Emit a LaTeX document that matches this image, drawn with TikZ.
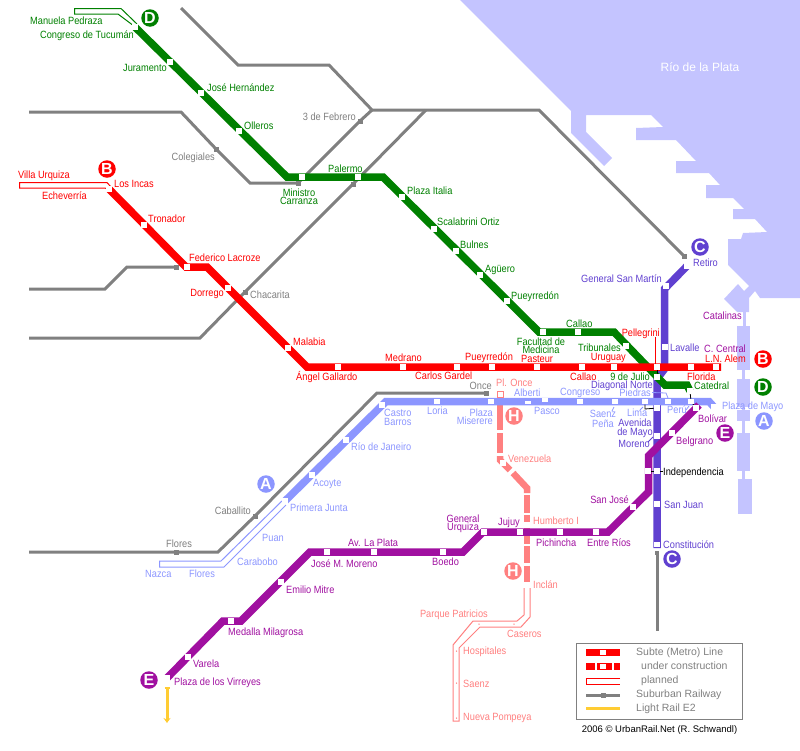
\documentclass[tikz,border=0pt]{standalone}
\usepackage{fontspec}
\setmainfont{Liberation Sans}[FakeStretch=0.88]
\newfontfamily\plainf{Liberation Sans}
\usetikzlibrary{arrows.meta}
\pgfdeclarelayer{water}
\pgfdeclarelayer{rails}
\pgfsetlayers{water,rails,main}
\definecolor{cWater}{HTML}{C4C4FF}
\definecolor{cD}{HTML}{008000}
\definecolor{cB}{HTML}{FF0000}
\definecolor{cA}{HTML}{8C96FF}
\definecolor{cC}{HTML}{6040D0}
\definecolor{cE}{HTML}{A010A0}
\definecolor{cH}{HTML}{FF8080}
\definecolor{cGrey}{HTML}{808080}
\definecolor{cYel}{HTML}{FFCC33}
\tikzset{
  st/.style={rectangle,fill=white,inner sep=0pt,minimum size=5.5pt},
  gst/.style={rectangle,fill=cGrey,inner sep=0pt,minimum size=5pt},
  lbl/.style={inner sep=0pt,yshift=-1pt,font=\fontsize{10.5}{8.5}\selectfont,text height=7.5pt,text depth=2pt},
  lblm/.style={inner sep=0pt,yshift=-0.5pt,font=\fontsize{10.5}{8.5}\selectfont},
  lD/.style={text=cD}, lB/.style={text=cB}, lA/.style={text=cA}, lC/.style={text=cC},
  lE/.style={text=cE}, lH/.style={text=cH}, lG/.style={text=cGrey},
  badge/.style={circle,inner sep=0pt,minimum size=17.5pt,text=white,font=\plainf\fontsize{16}{16}\selectfont\bfseries},
  metro/.style={line width=7.5pt,line join=miter},
  rail/.style={cGrey,line width=3pt,line join=miter},
  thin/.style={line width=1pt,line join=miter},
  tick/.style={line width=0.8pt},
  legendtxt/.style={inner sep=0pt,anchor=west,yshift=-0.5pt,text=cGrey,font=\plainf\fontsize{10.5}{10}\selectfont,text height=7.5pt,text depth=2pt},
}
\begin{document}
\begin{tikzpicture}[x=1pt,y=-1pt]
\useasboundingbox (0,0) rectangle (800,750);
% ---------- water
\begin{pgfonlayer}{water}
\fill[cWater] (460,0)--(571,111)--(571,133)--(604,166)--(612,158)--(586,132)--(586,115)--(651,115)--(663,127)--(636,128)--(636,140)--(676,140)--(696,161)--(676,161)--(676,173)--(709,173)--(720,185)--(706,185)--(706,198)--(733,198)--(744,209)--(733,209)--(733,219)--(755,219)--(767,232)--(743,233)--(741,239)--(728,239)--(728,265)--(749,286)--(744,291)--(738,284)--(724,299)--(737,312)--(749,312)--(749,298)--(755,291)--(760,298)--(800,298)--(800,0)--cycle;
\fill[cWater] (743,312) rectangle (746,326);
\fill[cWater] (737,326) rectangle (750,370);
\fill[cWater] (742,370) rectangle (745,379);
\fill[cWater] (737,379) rectangle (750,407);
\fill[cWater] (742,407) rectangle (745,410);
\fill[cWater] (737,410) rectangle (750,421);
\fill[cWater] (742,421) rectangle (745,433);
\fill[cWater] (737,433) rectangle (750,471);
\fill[cWater] (742,471) rectangle (745,479);
\fill[cWater] (738,479) rectangle (752,514);
\end{pgfonlayer}
\node[inner sep=0pt,text=white,font=\plainf\fontsize{12}{12}\selectfont] (tRio) at (700,67) {Río de la Plata};
% ---------- stations: grey
\node[gst] (gColegiales) at (216,149) {};
\node[gst] (gFebrero) at (360,121) {};
\node[gst] (gMinistro) at (298,183) {};
\node[gst] (gPalermo) at (353,184) {};
\node[gst] (gChacarita) at (245,292) {};
\node[gst] (gLacroze) at (176,267) {};
\node[gst] (gCaballito) at (255,516) {};
\node[gst] (gFlores) at (176,552) {};
\node[gst] (gOnce) at (486,393) {};
\node[gst] (gRetiro) at (684,256) {};
\node[gst,minimum size=4.5pt] (gConst) at (657,553) {};
% grey corners
\coordinate (r1a) at (181,8); \coordinate (r1b) at (238,65); \coordinate (r1c) at (329,65); \coordinate (r1d) at (372,110); \coordinate (r1e) at (539,110);
\coordinate (r2a) at (29,112); \coordinate (r2b) at (181,112); \coordinate (r2c) at (250,183);
\coordinate (r3a) at (29,338); \coordinate (r3b) at (200,338); \coordinate (r3c) at (426,110);
\coordinate (r4a) at (29,289); \coordinate (r4b) at (105,289); \coordinate (r4c) at (127,267);
\coordinate (r5a) at (29,552); \coordinate (r5b) at (218,552); \coordinate (r5c) at (377,393);
\coordinate (r6) at (657,631);
% ---------- stations: D
\node[st] (dCongreso) at (135,27) {};
\node[st] (dJuramento) at (170,62) {};
\node[st] (dHernandez) at (201,93) {};
\node[st] (dOlleros) at (239,131) {};
\coordinate (dc1) at (287,177);
\node[st] (dMinistro) at (302,177) {};
\node[st] (dPalermo) at (358,177) {};
\coordinate (dc2) at (383,177);
\node[st] (dItalia) at (402,197) {};
\node[st] (dScalabrini) at (434,229) {};
\node[st] (dBulnes) at (456,251) {};
\node[st] (dAguero) at (480,275) {};
\node[st] (dPueyrredon) at (507,301) {};
\coordinate (dc3) at (539,332);
\node[st] (dFacultad) at (543,332) {};
\node[st] (dCallao) at (578,332) {};
\coordinate (dc4) at (614,332);
\node[st] (dTribunales) at (626,346) {};
\node[st] (dJulio) at (657,377) {};
\coordinate (dc5) at (665,385);
\coordinate (dc6) at (687,385);
\node[st] (dCatedral) at (690,391) {};
% ---------- stations: B
\node[st] (bIncas) at (109,189) {};
\node[st] (bTronador) at (144,225) {};
\coordinate (bc1) at (186,267);
\node[st] (bLacroze) at (187,267) {};
\coordinate (bc2) at (207,267);
\node[st] (bDorrego) at (228,288) {};
\node[st] (bMalabia) at (288,348) {};
\coordinate (bc3) at (307,367);
\node[st] (bGallardo) at (338,367) {};
\node[st] (bMedrano) at (403,367) {};
\node[st] (bGardel) at (457,367) {};
\node[st] (bPueyrredon) at (492,367) {};
\node[st] (bPasteur) at (537,367) {};
\node[st] (bCallao) at (582,367) {};
\node[st] (bUruguay) at (614,367) {};
\node[st] (bPellegrini) at (657,367) {};
\node[st] (bFlorida) at (691,367) {};
\node[st] (bAlem) at (716,367) {};
\coordinate (bEnd) at (721,367);
% ---------- stations: A
\node[st] (aJunta) at (285,501) {};
\node[st] (aAcoyte) at (312,475) {};
\node[st] (aJaneiro) at (346,440) {};
\node[st] (aCastro) at (382,405) {};
\coordinate (ac1) at (386,401.5);
\node[st] (aLoria) at (437,401.5) {};
\node[st] (aPlaza) at (491,401.5) {};
\node[st,minimum height=3.5pt] (aAlberti) at (528,402.5) {};
\node[st,minimum height=3.5pt] (aPasco) at (545,400) {};
\node[st] (aCongreso) at (580,401.5) {};
\node[st] (aSaenz) at (615,401.5) {};
\node[st] (aLima) at (645,401.5) {};
\node[st] (aPiedras) at (668,401.5) {};
\node[st] (aPeru) at (691,401.5) {};
\coordinate (ac2) at (709,401.5);
\node[st] (aMayo) at (714,407) {};
% ---------- stations: C
\node[st] (cRetiro) at (687,266) {};
\node[st] (cMartin) at (666,286) {};
\coordinate (cc1) at (664.5,289);
\node[st] (cLavalle) at (665,347) {};
\coordinate (cc2) at (664.5,369);
\coordinate (cc3) at (657,379);
\node[st] (cMayo) at (657,408) {};
\node[st] (cMoreno) at (657,436) {};
\node[st] (cInd) at (657,471) {};
\node[st] (cJuan) at (657,504) {};
\node[st] (cConst) at (657,544.5) {};
\coordinate (cEnd) at (657,548);
% ---------- stations: E
\node[st] (eVirreyes) at (167,678) {};
\node[st] (eVarela) at (188,657) {};
\coordinate (ec1) at (223,621);
\node[st] (eMedalla) at (231,621) {};
\coordinate (ec2) at (241,621);
\node[st] (eMitre) at (281,582) {};
\coordinate (ec3) at (310,552);
\node[st] (eMoreno) at (327,552) {};
\node[st] (ePlata) at (374,552) {};
\node[st] (eBoedo) at (443,552) {};
\coordinate (ec4) at (463,552);
\coordinate (ec5) at (483,532);
\node[st] (eUrquiza) at (484,532) {};
\node[st] (eJujuy) at (520,532) {};
\node[st] (ePichincha) at (560,532) {};
\node[st] (eRios) at (596,532) {};
\coordinate (ec6) at (608,532);
\node[st] (eJose) at (633,507) {};
\coordinate (ec7) at (648.5,492);
\node[st] (eInd) at (648,471) {};
\coordinate (ec8) at (648.5,456);
\node[st] (eBelgrano) at (672,433) {};
\node[st] (eBolivar) at (696,408) {};
\coordinate (eEnd) at (699,405);
% ---------- stations: H
\node[rectangle,draw=cH,line width=1pt,fill=white,inner sep=0pt,minimum size=6pt] (hOnce) at (500,394) {};
\node[st] (hVenezuela) at (503,463) {};
\node[st] (hHumberto) at (527,525) {};
\node[st] (hInclan) at (527,585) {};
\coordinate (h1a) at (500,405); \coordinate (h1b) at (500,430);
\coordinate (h2a) at (500,433); \coordinate (h2b) at (500,453);
\coordinate (h3a) at (500,456); \coordinate (h3b) at (500,460); \coordinate (h3c) at (510,470);
\coordinate (h4a) at (513,473); \coordinate (h4b) at (527,488); \coordinate (h4c) at (527,493);
\coordinate (h5a) at (527,495); \coordinate (h5b) at (527,513);
\coordinate (h6a) at (527,515); \coordinate (h6b) at (527,544);
\coordinate (h7a) at (527,546); \coordinate (h7b) at (527,563);
\coordinate (h8a) at (527,565.5); \coordinate (h8b) at (527,588);
% ---------- planned-stop dots
\node[circle,fill=cH,inner sep=0pt,minimum size=1.5pt] (hPatricios) at (479,624) {};
\node[circle,fill=cH,inner sep=0pt,minimum size=1.5pt] (hCaseros) at (514,624) {};
\node[circle,fill=cH,inner sep=0pt,minimum size=1.5pt] (hHospitales) at (456.5,651) {};
\node[circle,fill=cH,inner sep=0pt,minimum size=1.5pt] (hSaenz) at (456.5,683) {};
\node[circle,fill=cH,inner sep=0pt,minimum size=1.5pt] (hPompeya) at (456.5,718) {};
% ---------- rails
\begin{pgfonlayer}{rails}
\draw[rail] (r1a)--(r1b)--(r1c)--(r1d)--(r1e)--(gRetiro.center);
\draw[rail] (r1d)--(gFebrero.center)--(gMinistro.center);
\draw[rail] (r2a)--(r2b)--(gColegiales.center)--(r2c)--(gMinistro.center);
\draw[rail] (r3a)--(r3b)--(gChacarita.center)--(gPalermo.center)--(r3c);
\draw[rail] (r4a)--(r4b)--(r4c)--(gLacroze.center);
\draw[rail] (r5a)--(gFlores.center)--(r5b)--(gCaballito.center)--(r5c)--(gOnce.center);
\draw[rail] (gConst.center)--(r6);
% line H
\draw[metro,cH,line width=6.5pt] (h1a)--(h1b);
\draw[metro,cH,line width=6.5pt] (h2a)--(h2b);
\draw[metro,cH,line width=6.5pt] (h3a)--(h3b)--(h3c);
\draw[metro,cH,line width=6.5pt] (h4a)--(h4b)--(h4c);
\draw[metro,cH,line width=6.5pt] (h5a)--(h5b);
\draw[metro,cH,line width=6.5pt] (h6a)--(h6b);
\draw[metro,cH,line width=6.5pt] (h7a)--(h7b);
\draw[metro,cH,line width=6.5pt] (h8a)--(h8b);
% line H planned
\draw[thin,cH] (524,588)--(524,615)--(517,621)--(473,621)--(453,645)--(453,721)--(459,721)--(459,648)--(480,627)--(521,627)--(530,617)--(530,588);
% line A planned
\draw[thin,cA] (285,498)--(221,561)--(159.5,561)--(159.5,567)--(224,567)--(286,505);
% line D planned
\draw[thin,cD] (134,26)--(118,14)--(74.5,14)--(74.5,8.5)--(121,8.5)--(137,24);
% line B planned
\draw[thin,cB] (107,189)--(105,188)--(19.5,188)--(19.5,182.5)--(107,182.5)--(111,187);
% line C
\draw[metro,cC] (cRetiro.center)--(cc1)--(cc2)--(cc3)--(cEnd);
% line D
\draw[metro,cD] (dCongreso.center)--(dc1)--(dc2)--(dc3)--(dc4)--(dc5)--(dc6)--(dCatedral.center);
% line A
\draw[metro,cA] (aJunta.center)--(ac1)--(ac2)--(aMayo.center);
% line B
\draw[metro,cB] (bIncas.center)--(bc1)--(bc2)--(bc3)--(bEnd);
% line E
\draw[metro,cE] (eVirreyes.center)--(ec1)--(ec2)--(ec3)--(ec4)--(ec5)--(ec6)--(ec7)--(ec8)--(eEnd);
% light rail
\draw[cYel,line width=3pt,-{Stealth[length=5pt,width=7pt]}] (167,687)--(167,723);
\draw[cYel,line width=2pt] (164.5,688)--(169.5,688);
% interchange ticks
\draw[tick,black] (aLima.center)++(0,3)--(645,409)--(cMayo.center);
\draw[tick,black] (dCatedral.center)--(aPeru.center);
\draw[tick,black] (aPeru.center)--(eBolivar.center);
\draw[tick,black] (bPellegrini.center)--(dJulio.center);
\draw[tick,black] (eInd.center)--(663,471);
\draw[tick,cB] (655,337)--(655,364);
\draw[tick,cA] (652,392.5)--(666,393)--(668,398);
\draw[tick,cA] (612,411)--(614,407);
\draw[tick,cA] (640,410)--(643,407);
\draw[tick,cA] (686,410)--(689,406);
\draw[tick,cC] (648,442)--(653,437);
\end{pgfonlayer}
% ---------- badges
\node[badge,fill=cD] (badgeD1) at (150,18) {D};
\node[badge,fill=cB] (badgeB1) at (107,169) {B};
\node[badge,fill=cC] (badgeC1) at (700,247) {C};
\node[badge,fill=cB] (badgeB2) at (763,359) {B};
\node[badge,fill=cD] (badgeD2) at (763,387) {D};
\node[badge,fill=cA] (badgeA1) at (764,421) {A};
\node[badge,fill=cE] (badgeE1) at (725,433) {E};
\node[badge,fill=cA] (badgeA2) at (266,484) {A};
\node[badge,fill=cH] (badgeH1) at (514,416) {H};
\node[badge,fill=cH] (badgeH2) at (513,571) {H};
\node[badge,fill=cC] (badgeC2) at (672,559) {C};
\node[badge,fill=cE] (badgeE2) at (149,680) {E};
% ---------- labels D
\node[lbl,lD,anchor=west] (t1) at (30,20.5) {Manuela Pedraza};
\node[lbl,lD,anchor=east] (t2) at (134,35) {Congreso de Tucumán};
\node[lbl,lD,anchor=east] (t3) at (167,68) {Juramento};
\node[lbl,lD,anchor=west] (t4) at (207,88) {José Hernández};
\node[lbl,lD,anchor=west] (t5) at (244,126) {Olleros};
\node[lbl,lD,anchor=west] (t6) at (328,169) {Palermo};
\node[lblm,lD,align=center] (t7) at (299,196) {Ministro\\Carranza};
\node[lbl,lD,anchor=west] (t8) at (407,191) {Plaza Italia};
\node[lbl,lD,anchor=west] (t9) at (437,222) {Scalabrini Ortiz};
\node[lbl,lD,anchor=west] (t10) at (460,245) {Bulnes};
\node[lbl,lD,anchor=west] (t11) at (485,269) {Agüero};
\node[lbl,lD,anchor=west] (t12) at (511,296) {Pueyrredón};
\node[lbl,lD,anchor=west] (t13) at (566,324) {Callao};
\node[lblm,lD,align=center] (t14) at (541,345) {Facultad de\\Medicina};
\node[lbl,lD,anchor=east] (t15) at (621,348) {Tribunales};
\node[lbl,lD,anchor=east] (t16) at (650,377) {9 de Julio};
\node[lbl,lD,anchor=west] (t17) at (694,386) {Catedral};
% ---------- labels B
\node[lbl,lB,anchor=west] (t18) at (18,175) {Villa Urquiza};
\node[lbl,lB,anchor=west] (t19) at (42,196) {Echeverría};
\node[lbl,lB,anchor=west] (t20) at (114,184) {Los Incas};
\node[lbl,lB,anchor=west] (t21) at (148,219) {Tronador};
\node[lbl,lB,anchor=west] (t22) at (189,258) {Federico Lacroze};
\node[lbl,lB,anchor=east] (t23) at (224,293) {Dorrego};
\node[lbl,lB,anchor=west] (t24) at (293,342) {Malabia};
\node[lbl,lB,anchor=west] (t25) at (296,377) {Ángel Gallardo};
\node[lbl,lB,anchor=west] (t26) at (385,358) {Medrano};
\node[lbl,lB,anchor=west] (t27) at (415,376) {Carlos Gardel};
\node[lbl,lB,anchor=west] (t28) at (465,357) {Pueyrredón};
\node[lbl,lB,anchor=west] (t29) at (521,359) {Pasteur};
\node[lbl,lB,anchor=west] (t30) at (570,377) {Callao};
\node[lbl,lB,anchor=east] (t31) at (626,357) {Uruguay};
\node[lbl,lB,anchor=east] (t32) at (660,333) {Pellegrini};
\node[lbl,lB,anchor=west] (t33) at (687,377) {Florida};
\node[lbl,lB,anchor=west] (t34) at (705,359) {L.N. Alem};
\node[lbl,lE,anchor=west] (t35) at (704,349) {C. Central};
\node[lbl,lE,anchor=west] (t36) at (703,316) {Catalinas};
% ---------- labels C
\node[lbl,lC,anchor=west] (t37) at (693,263) {Retiro};
\node[lbl,lC,anchor=east] (t38) at (662,279) {General San Martín};
\node[lbl,lC,anchor=west] (t39) at (670,348) {Lavalle};
\node[lbl,lC,anchor=east] (t40) at (653,385) {Diagonal Norte};
\node[lblm,lC,align=center] (t41) at (635,428) {Avenida\\de Mayo};
\node[lbl,lC,anchor=east] (t42) at (650,444) {Moreno};
\node[lbl,anchor=west,text=black] (t43) at (663,472) {Independencia};
\node[lbl,lC,anchor=west] (t44) at (664,505) {San Juan};
\node[lbl,lC,anchor=west] (t45) at (663,545) {Constitución};
% ---------- labels A
\node[lblm,lA,align=left,anchor=west] (t46) at (384,417) {Castro\\Barros};
\node[lbl,lA,anchor=west] (t47) at (427,411) {Loria};
\node[lblm,lA,align=right,anchor=east] (t48) at (493,416) {Plaza\\Miserere};
\node[lbl,lA,anchor=west] (t49) at (514,393) {Alberti};
\node[lbl,lA,anchor=west] (t50) at (534,411) {Pasco};
\node[lbl,lA,anchor=west] (t51) at (560,392) {Congreso};
\node[lblm,lA,align=center] (t52) at (603,418) {Saenz\\[1.5pt]Peña};
\node[lbl,lA,anchor=west] (t53) at (627,413) {Lima};
\node[lbl,lA,anchor=east] (t54) at (651,393) {Piedras};
\node[lbl,lA,anchor=west] (t55) at (667,410) {Perú};
\node[lbl,lA,anchor=west] (t56) at (722,406) {Plaza de Mayo};
\node[lbl,lA,anchor=west] (t57) at (351,447) {Río de Janeiro};
\node[lbl,lA,anchor=west] (t58) at (313,483) {Acoyte};
\node[lbl,lA,anchor=west] (t59) at (290,508) {Primera Junta};
\node[lbl,lA,anchor=west] (t60) at (262,538) {Puan};
\node[lbl,lA,anchor=west] (t61) at (237,562) {Carabobo};
\node[lbl,lA,anchor=west] (t62) at (145,574) {Nazca};
\node[lbl,lA,anchor=west] (t63) at (189,574) {Flores};
% ---------- labels grey
\node[lbl,lG,anchor=east] (t64) at (215,157) {Colegiales};
\node[lbl,lG,anchor=east] (t65) at (356,117) {3 de Febrero};
\node[lbl,lG,anchor=west] (t66) at (250,295) {Chacarita};
\node[lbl,lG,anchor=east] (t67) at (251,511) {Caballito};
\node[lbl,lG,anchor=west] (t68) at (166,544) {Flores};
\node[lbl,lG,anchor=east] (t69) at (492,386) {Once};
% ---------- labels H
\node[lbl,lH,anchor=west] (t70) at (496,383) {Pl. Once};
\node[lbl,lH,anchor=west] (t71) at (508,459) {Venezuela};
\node[lbl,lH,anchor=west] (t72) at (533,521) {Humberto I};
\node[lbl,lH,anchor=west] (t73) at (533,585) {Inclán};
\node[lbl,lH,anchor=east] (t74) at (488,614) {Parque Patricios};
\node[lbl,lH,anchor=west] (t75) at (507,634) {Caseros};
\node[lbl,lH,anchor=west] (t76) at (463,651) {Hospitales};
\node[lbl,lH,anchor=west] (t77) at (463,684) {Saenz};
\node[lbl,lH,anchor=west] (t78) at (463,717) {Nueva Pompeya};
% ---------- labels E
\node[lbl,lE,anchor=west] (t79) at (174,682) {Plaza de los Virreyes};
\node[lbl,lE,anchor=west] (t80) at (193,664) {Varela};
\node[lbl,lE,anchor=west] (t81) at (228,632) {Medalla Milagrosa};
\node[lbl,lE,anchor=west] (t82) at (286,590) {Emilio Mitre};
\node[lbl,lE,anchor=west] (t83) at (311,564) {José M. Moreno};
\node[lbl,lE,anchor=west] (t84) at (348,543) {Av. La Plata};
\node[lbl,lE,anchor=west] (t85) at (432,562) {Boedo};
\node[lblm,lE,align=center] (t86) at (463,523.5) {General\\Urquiza};
\node[lbl,lE,anchor=east] (t87) at (520,522) {Jujuy};
\node[lbl,lE,anchor=west] (t88) at (536,543) {Pichincha};
\node[lbl,lE,anchor=west] (t89) at (587,543) {Entre Ríos};
\node[lbl,lE,anchor=east] (t90) at (629,500) {San José};
\node[lbl,lE,anchor=west] (t91) at (676,441) {Belgrano};
\node[lbl,lE,anchor=west] (t92) at (698,419) {Bolívar};
% ---------- legend
\node[rectangle,draw=cGrey,line width=1pt,inner sep=0pt,minimum width=166pt,minimum height=76pt,anchor=north west] (legend) at (576,643) {};
\fill[cB] (586,649) rectangle (620,656);
\node[st] (lg1) at (603,652.5) {};
\fill[cB] (586,663) rectangle (595,670);
\fill[cB] (597,663) rectangle (612,670);
\fill[cB] (614,663) rectangle (620,670);
\node[st] (lg2) at (603,666.5) {};
\draw[thin,cB] (620,678.5)--(586.5,678.5)--(586.5,684)--(620,684);
\coordinate (lg3a) at (586,695); \coordinate (lg3b) at (620,695);
\node[gst] (lg3) at (603,695) {};
\begin{pgfonlayer}{rails}
\draw[rail] (lg3a)--(lg3.center)--(lg3b);
\end{pgfonlayer}
\fill[cYel] (586,706.5) rectangle (620,709.5);
\node[legendtxt] (lt1) at (636,652) {Subte (Metro) Line};
\node[legendtxt] (lt2) at (641,666) {under construction};
\node[legendtxt] (lt3) at (641,680) {planned};
\node[legendtxt] (lt4) at (636,694) {Suburban Railway};
\node[legendtxt] (lt5) at (636,708) {Light Rail E2};
\node[inner sep=0pt,text=black,font=\plainf\fontsize{9.5}{10}\selectfont] (credit) at (659.5,730) {2006 © UrbanRail.Net (R. Schwandl)};
\end{tikzpicture}
\end{document}
